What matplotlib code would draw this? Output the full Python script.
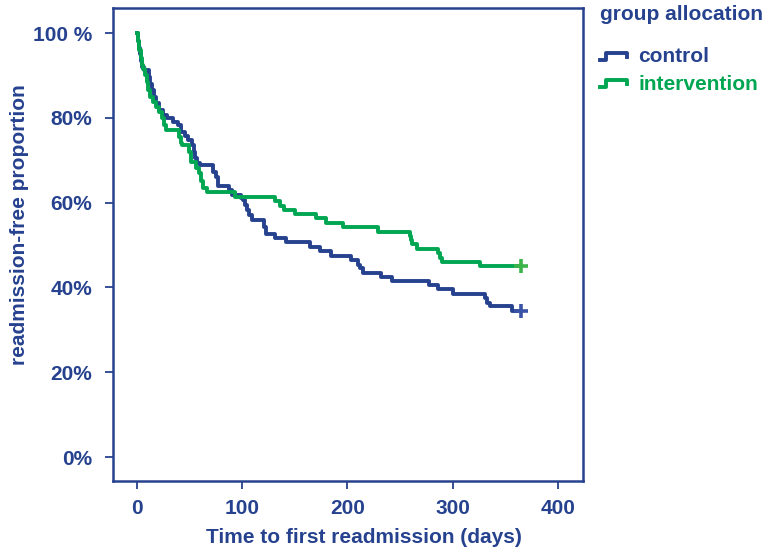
import matplotlib.pyplot as plt
from matplotlib.lines import Line2D

blue = '#26428f'
green = '#00a651'

# Kaplan-Meier steps (day, % readmission-free)
control_days = [0, 1, 2, 3, 4, 5, 7, 12, 13, 14, 16, 18, 21, 25, 29, 34, 39, 42, 46, 49,
                52, 54, 55, 57, 60, 72, 75, 77, 88, 90, 99, 101, 103, 105, 107, 109, 121,
                123, 131, 142, 164, 174, 184, 203, 210, 212, 215, 232, 242, 277, 286, 300,
                331, 333, 335, 356, 365]
control_surv = [100, 98, 96.5, 95, 93.5, 92, 91.3, 89.6, 88, 86.6, 85, 83.4, 81.8, 80.7, 80,
                79.1, 78.2, 76.7, 75.8, 74.8, 73.5, 72, 70.5, 69.3, 68.9, 67.3, 66.1, 63.9,
                63, 61.8, 61.1, 60.6, 59.4, 58.2, 57, 55.9, 54.3, 52.7, 51.6, 50.6, 49.6,
                48.6, 47.5, 46.5, 45.4, 44.5, 43.5, 42.5, 41.6, 40.5, 39.6, 38.4, 37.4, 36.4,
                35.5, 34.4, 34.4]

interv_days = [0, 1, 2, 4, 5, 6, 8, 10, 11, 13, 15, 18, 21, 24, 26, 28, 40, 42, 43, 50, 51,
               56, 59, 61, 63, 67, 93, 131, 136, 140, 150, 170, 180, 196, 229, 259, 260,
               261, 266, 286, 288, 290, 326, 365]
interv_surv = [100, 98, 96, 94, 92.5, 91.5, 90, 88.5, 86.6, 85, 83.8, 82.6, 81.4, 80, 78.3,
               77.1, 75.5, 74, 73.6, 72, 69.6, 68.2, 67, 65, 63.4, 62.6, 61.4, 60.4, 59.3,
               58.3, 57.3, 56.3, 55.3, 54.2, 53.1, 52.1, 51.1, 50.2, 49.1, 48.0, 47.0, 46.1,
               45.0, 45.0]

yticks = [0, 20, 40, 60, 80, 100]
ytick_labels = ['0%', '20%', '40%', '60%', '80%', '100 %']
xticks = [0, 100, 200, 300, 400]

plt.rcParams['font.family'] = ['Liberation Sans', 'DejaVu Sans']
plt.rcParams['font.weight'] = 'bold'

fig = plt.figure(figsize=(7.69, 5.53), dpi=100)
ax = fig.add_axes([113 / 769, 72 / 553, 470 / 769, 473 / 553])

ax.step(control_days, control_surv, where='post', color=blue, lw=2.8)
ax.step(interv_days, interv_surv, where='post', color=green, lw=2.8)
ax.plot(control_days[-1], control_surv[-1], '+', color='#3a53a4', ms=10, mew=2.6)
ax.plot(interv_days[-1], interv_surv[-1], '+', color='#3cb44a', ms=10, mew=2.6)

ax.set_xlim(-22.6, 423.7)
ax.set_ylim(-5.66, 105.9)
ax.set_xticks(xticks)
ax.set_yticks(yticks)
ax.set_yticklabels(ytick_labels)

for s in ax.spines.values():
    s.set_color(blue)
    s.set_linewidth(1.8)
ax.tick_params(colors=blue, labelsize=15, length=6, width=1.3, direction='out')
ax.tick_params(axis='y', pad=9)
ax.tick_params(axis='x', pad=7)
for lab in ax.get_xticklabels() + ax.get_yticklabels():
    lab.set_fontweight('bold')

ax.set_xlabel('Time to first readmission (days)', color=blue, fontsize=15, fontweight='bold')
ax.set_ylabel('readmission-free proportion', color=blue, fontsize=15, fontweight='bold')
ax.xaxis.set_label_coords(0.534, -0.1)
ax.yaxis.set_label_coords(-0.178, 0.541)

# legend drawn by hand, step-shaped handles like the original
fig.text(600 / 769, 1 - 15 / 553, 'group allocation', color=blue, fontsize=15,
         fontweight='bold', va='center', ha='left')
for yc, col, name in [(57, blue, 'control'), (84, green, 'intervention')]:
    xs = [600, 606, 606, 627, 627]
    ys = [yc + 3, yc + 3, yc - 4, yc - 4, yc]
    fig.add_artist(Line2D([x / 769 for x in xs], [1 - y / 553 for y in ys],
                          color=col, lw=2.8, transform=fig.transFigure))
    fig.text(638 / 769, 1 - yc / 553, name, color=col, fontsize=15,
             fontweight='bold', va='center', ha='left')

fig.savefig('out.png', dpi=100)
